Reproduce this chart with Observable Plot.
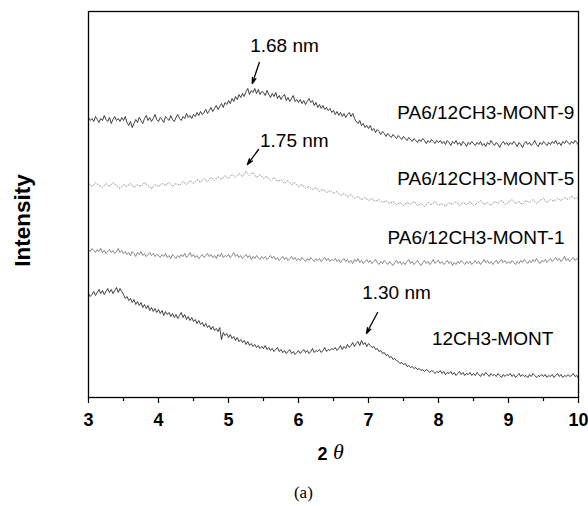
<!DOCTYPE html>
<html><head><meta charset="utf-8">
<script src="https://cdn.jsdelivr.net/npm/d3@7"></script>
<script src="https://cdn.jsdelivr.net/npm/@observablehq/plot@0.6"></script>
<style>html,body{margin:0;padding:0;background:#fff}</style>
</head><body><div id="chart"></div>
<script>
// 2θ grid of the scans
const thetaStart = 3;
const fineStep = 0.025;   // MONT-9, MONT-1, 12CH3-MONT
const coarseStep = 0.05;  // MONT-5 (dotted trace)

// Intensities (arbitrary units, curves offset vertically as in the figure)
const mont9 = [
  280,277,279,276,281,278,275,279,277,282,278,276,280,274,278,281,277,279,276,280,
  277,281,275,272,276,270,274,278,275,280,277,274,279,282,277,280,276,279,283,278,
  276,280,278,275,281,279,277,282,278,276,280,283,279,277,281,279,284,280,282,279,
  283,281,285,282,286,283,285,288,284,287,290,286,289,292,288,291,294,290,295,293,
  297,294,299,296,301,298,303,300,304,301,306,309,303,307,305,309,304,308,303,306,
  305,302,307,303,300,304,301,305,299,302,298,301,303,297,300,296,299,302,296,298,
  295,298,294,297,293,296,299,295,297,292,295,290,293,289,292,288,290,287,289,285,
  287,283,286,282,285,281,284,280,283,285,281,284,279,276,274,277,272,274,270,272,
  269,272,267,269,265,268,266,263,266,264,261,264,262,260,263,261,259,262,260,258,
  261,259,257,260,258,256,259,257,255,258,256,259,257,254,257,255,258,256,254,257,
  255,257,254,256,253,257,255,252,256,254,257,253,255,252,256,254,251,255,253,256,
  254,252,255,253,256,252,254,251,255,253,257,254,252,255,253,250,254,256,253,255,
  252,255,253,256,254,251,255,253,250,254,256,253,255,252,254,257,253,251,255,253,
  256,254,252,255,253,256,254,257,253,255,252,256,254,257,255,253,256,254,257,255,
  252];
const mont5 = [
  214,211,215,212,210,214,211,215,212,209,213,211,214,210,213,211,215,212,209,213,
  211,214,212,215,211,214,212,216,213,217,214,218,215,219,216,220,217,221,218,222,
  219,223,220,224,221,226,222,225,220,223,219,221,217,220,216,218,214,217,213,215,
  211,213,209,211,208,210,206,208,205,207,204,206,202,204,201,203,199,201,198,200,
  197,199,196,198,195,197,194,196,193,195,192,195,193,196,192,194,191,195,193,196,
  192,194,191,195,193,196,192,195,193,196,192,194,197,193,195,192,196,194,197,193,
  195,198,194,196,193,197,195,198,194,197,199,195,198,196,199,197,200,198,201,199,
  200];
const mont1 = [
  148,146,149,147,145,148,146,149,145,147,144,146,148,145,147,144,146,149,145,147,
  144,146,143,145,142,146,144,141,145,143,146,142,144,141,143,145,142,144,141,143,
  142,140,143,141,144,140,142,139,143,141,139,142,140,143,141,144,140,142,145,141,
  143,140,142,139,141,143,140,142,144,141,143,140,142,139,143,141,144,140,142,141,
  143,140,142,145,141,143,140,142,139,141,143,140,142,138,141,139,142,140,138,141,
  139,141,138,140,142,139,141,138,140,137,139,141,138,140,137,139,141,138,140,137,
  139,137,140,138,136,139,137,140,138,136,139,137,139,136,138,140,137,139,136,138,
  137,139,136,138,135,137,139,136,138,135,137,134,138,136,139,135,137,134,136,138,
  135,137,134,136,138,135,133,136,134,137,135,133,136,134,132,135,137,134,136,133,
  135,133,136,138,134,136,133,135,137,134,132,135,137,134,136,133,135,138,134,136,
  137,134,136,133,135,137,134,136,132,135,133,136,134,137,135,133,136,134,136,133,
  135,137,134,136,133,135,138,135,137,134,136,133,135,137,134,136,138,135,137,134,
  136,134,137,135,133,136,134,137,135,138,136,134,137,135,138,136,139,136,134,137,
  136,138,135,137,139,136,138,140,137,139,136,138,141,137,139,136,138,140,137,139,
  138];
const mont0 = [
  104,101,103,106,102,105,108,104,107,103,106,109,105,108,104,107,110,105,109,106,
  103,99,101,97,99,95,98,93,96,92,95,90,93,89,92,87,90,86,89,85,
  88,84,87,82,86,83,85,81,84,80,83,79,82,85,80,83,78,81,77,80,
  76,78,74,77,73,75,71,74,70,72,68,71,67,69,66,70,58,65,62,64,
  60,63,59,61,57,60,56,58,55,57,53,56,52,54,51,53,50,52,49,51,
  49,52,48,50,47,49,46,48,50,46,48,45,47,44,46,48,44,46,43,45,
  47,44,46,48,45,47,44,46,49,45,47,46,48,45,47,50,46,48,47,49,
  48,50,47,49,52,48,51,49,53,50,52,55,51,54,56,52,57,53,55,51,
  54,52,50,51,48,49,46,47,44,45,42,43,40,41,38,39,37,36,34,35,
  33,34,31,32,30,31,29,30,28,29,27,28,26,28,27,25,27,26,24,26,
  25,27,24,26,23,25,24,26,23,25,22,24,26,23,25,22,24,23,25,22,
  24,22,25,23,21,24,22,25,23,21,24,22,23,21,24,22,20,23,21,23,
  22,24,21,23,20,22,24,21,23,21,22,20,23,21,24,22,20,22,21,23,
  21,23,20,22,21,23,20,22,24,21,23,20,22,21,23,21,22,24,21,22,
  19];

// Labels
const seriesNames = ["PA6/12CH3-MONT-9", "PA6/12CH3-MONT-5", "PA6/12CH3-MONT-1", "12CH3-MONT"];
const labelTheta = [9.94, 9.94, 9.80, 9.64];
const labelY = [285, 219, 160, 59];

const peakText = ["1.68 nm", "1.75 nm", "1.30 nm"];
const peakTextTheta = [5.80, 5.94, 7.40];
const peakTextY = [352, 257, 105];
const arrowFromTheta = [5.44, 5.43, 7.13];
const arrowFromY = [335, 248, 85];
const arrowToTheta = [5.34, 5.27, 6.97];
const arrowToY = [314, 233, 64];

const xTicks = [3, 4, 5, 6, 7, 8, 9, 10];
const xMinorTicks = [3.5, 4.5, 5.5, 6.5, 7.5, 8.5, 9.5];

const rows = (vals, step) => vals.map((v, i) => ({t: thetaStart + i * step, v}));
const labels = seriesNames.map((name, i) => ({name, t: labelTheta[i], v: labelY[i]}));
const peaks = peakText.map((s, i) => ({s, t: peakTextTheta[i], v: peakTextY[i],
  x1: arrowFromTheta[i], y1: arrowFromY[i], x2: arrowToTheta[i], y2: arrowToY[i]}));

const sans = "'Liberation Sans', Arial, Helvetica, sans-serif";
const serif = "'Liberation Serif', 'Times New Roman', serif";

const chart = Plot.plot({
  width: 588, height: 506,
  marginTop: 11, marginBottom: 109, marginLeft: 88, marginRight: 10,
  x: {domain: [3, 10]},
  y: {domain: [0, 386], axis: null},
  style: {fontFamily: sans, background: "#fff", color: "#000", overflow: "visible"},
  marks: [
    Plot.line(rows(mont9, fineStep), {x: "t", y: "v", stroke: "#111", strokeWidth: 0.8}),
    Plot.line(rows(mont5, coarseStep), {x: "t", y: "v", stroke: "#999", strokeWidth: 1, strokeDasharray: "1.2,1.8"}),
    Plot.line(rows(mont1, fineStep), {x: "t", y: "v", stroke: "#555", strokeWidth: 0.7}),
    Plot.line(rows(mont0, fineStep), {x: "t", y: "v", stroke: "#111", strokeWidth: 0.8}),
    Plot.text(labels, {x: "t", y: "v", text: "name", textAnchor: "end", fontSize: 19, fill: "#000"}),
    Plot.text(peaks, {x: "t", y: "v", text: "s", fontSize: 19, fill: "#000"}),
    Plot.arrow(peaks, {x1: "x1", y1: "y1", x2: "x2", y2: "y2", stroke: "#000", strokeWidth: 1.3, headLength: 7, headAngle: 35}),
    Plot.frame({stroke: "#000", strokeWidth: 1.3}),
    Plot.axisX(xTicks, {tickSize: 6, tickPadding: 10, fontSize: 18, fontWeight: "bold", label: null, stroke: "#000", strokeWidth: 1.2}),
    Plot.axisX(xMinorTicks, {tickSize: 4, tickFormat: () => "", label: null, stroke: "#000", strokeWidth: 1.2}),
    Plot.text(["Intensity"], {y: () => 177, frameAnchor: "left", textAnchor: "middle", dx: -66, rotate: -90, fontSize: 22.5, fontWeight: "bold", fill: "#000"}),
    Plot.text(["2"], {x: () => 6.343, frameAnchor: "bottom", dy: 62, fontSize: 18, fontWeight: "bold", fill: "#000"}),
    Plot.text(["θ"], {x: () => 6.57, frameAnchor: "bottom", dy: 61, fontSize: 22, fontStyle: "italic", fontFamily: serif, fill: "#000"}),
    Plot.text(["(a)"], {x: () => 6.07, frameAnchor: "bottom", dy: 100, fontSize: 17, fontFamily: serif, fill: "#000"})
  ]
});
document.getElementById("chart").appendChild(chart);
</script>
</body></html>
